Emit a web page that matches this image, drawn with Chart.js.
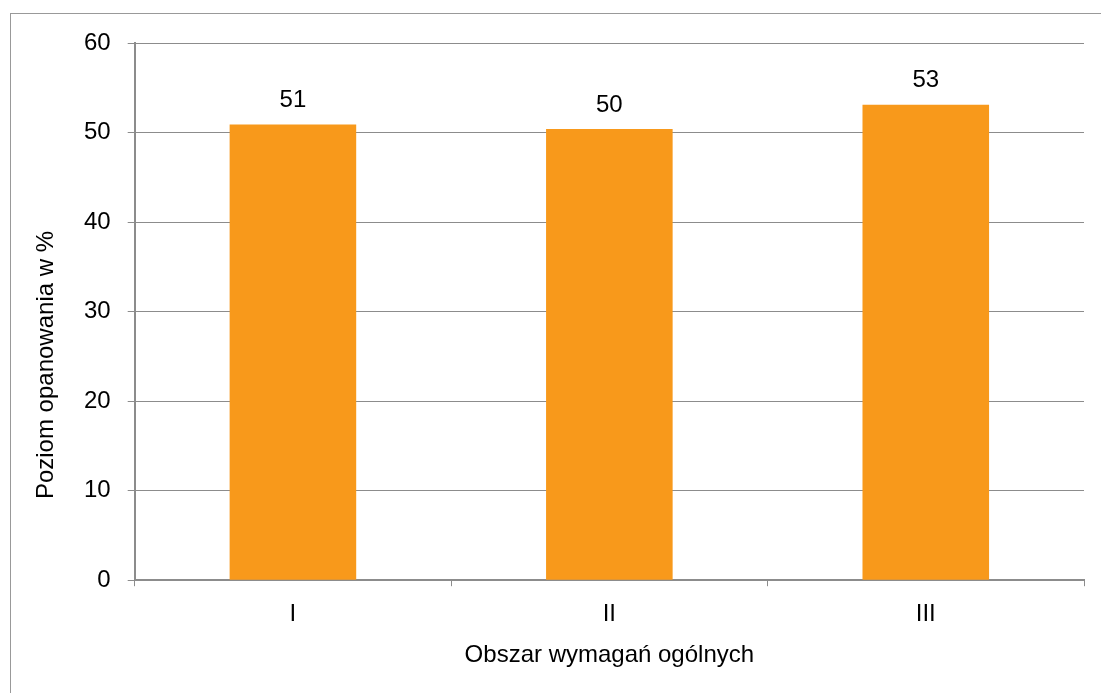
<!DOCTYPE html>
<html>
<head>
<meta charset="utf-8">
<script src="https://cdn.jsdelivr.net/npm/chart.js@4"></script>
<style>
  html, body { margin: 0; padding: 0; background: #fff; overflow: hidden; }
  #frame { position: absolute; left: 10px; top: 13px; width: 1200px; height: 800px; border: 1px solid #999; }
  #wrap { position: absolute; left: 0; top: 0; width: 1101px; height: 693px; }
</style>
</head>
<body>
<div id="frame"></div>
<div id="wrap"><canvas id="chart"></canvas></div>
<script>
const categories = ['I', 'II', 'III'];
const values = [50.9, 50.4, 53.1];
const yTicks = [0, 10, 20, 30, 40, 50, 60];
const xTitle = 'Obszar wymagań ogólnych';
const yTitle = 'Poziom opanowania w %';

const barColor = '#F8991B';
const gridColor = '#8c8c8c';
const fontFamily = '"Liberation Sans", Arial, sans-serif';
const fontSize = 24;

// value labels above bars + axis titles (placed like in the original sheet)
const extraText = {
    id: 'extraText',
    afterDatasetsDraw(chart) {
        const ctx = chart.ctx;
        const meta = chart.getDatasetMeta(0);
        const area = chart.chartArea;
        ctx.save();
        ctx.font = fontSize + 'px ' + fontFamily;
        ctx.fillStyle = '#000';
        ctx.textAlign = 'center';
        ctx.textBaseline = 'middle';
        meta.data.forEach((bar, i) => {
            ctx.fillText(Math.round(values[i]).toString(), bar.x, bar.y - 24);
        });
        ctx.fillText(xTitle, (area.left + area.right) / 2, 655);
        ctx.translate(46, 365);
        ctx.rotate(-Math.PI / 2);
        ctx.fillText(yTitle, 0, 0);
        ctx.restore();
    }
};

new Chart(document.getElementById('chart'), {
    type: 'bar',
    data: {
        labels: categories,
        datasets: [{
            data: values,
            backgroundColor: barColor,
            borderWidth: 0,
            barPercentage: 0.4,
            categoryPercentage: 1.0,
        }]
    },
    options: {
        responsive: true,
        maintainAspectRatio: false,
        animation: false,
        layout: { padding: { left: 67, right: 17, top: 43, bottom: 50 } },
        plugins: {
            legend: { display: false },
            tooltip: { enabled: false },
        },
        scales: {
            x: {
                grid: {
                    offset: true,
                    drawOnChartArea: false,
                    drawTicks: true,
                    tickLength: 6,
                    color: gridColor,
                },
                border: { color: gridColor, width: 2 },
                ticks: {
                    color: '#000',
                    font: { family: fontFamily, size: fontSize },
                    padding: 14,
                },
            },
            y: {
                min: 0,
                max: 60,
                afterBuildTicks(axis) {
                    axis.ticks = yTicks.map(v => ({ value: v }));
                },
                grid: {
                    color: gridColor,
                    tickLength: 7,
                },
                border: { color: gridColor, width: 2 },
                ticks: {
                    color: '#000',
                    font: { family: fontFamily, size: fontSize },
                    padding: 17,
                },
            }
        }
    },
    plugins: [extraText]
});
</script>
</body>
</html>
